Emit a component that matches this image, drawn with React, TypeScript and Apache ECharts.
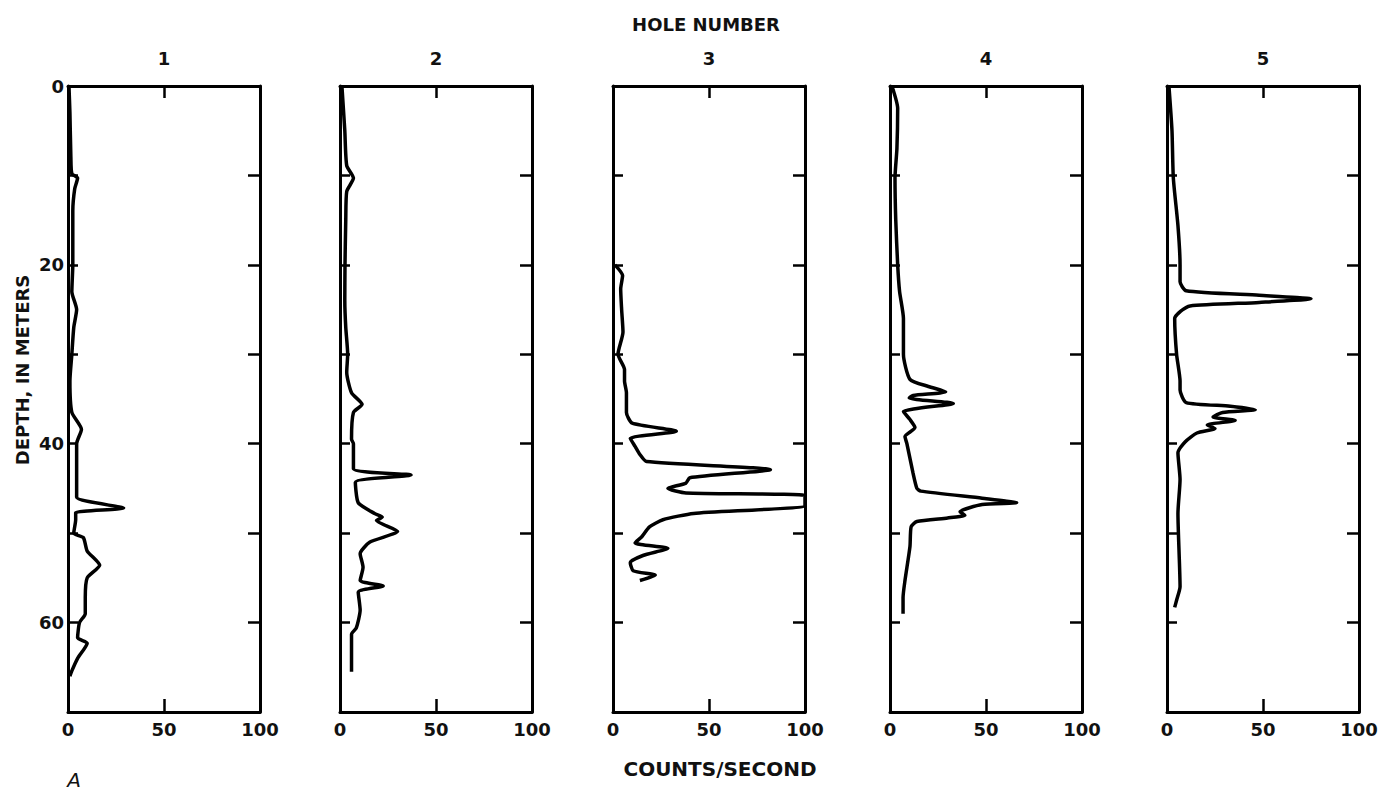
import React, { useEffect, useRef } from "react";
import * as echarts from "echarts";

// Gamma-log style profiles: depth (m) and counts/second for each hole
const holeNumbers = ["1", "2", "3", "4", "5"];
const xTicks = [0, 50, 100];

const hole1Depth = [0, 3, 8, 9.8, 10.3, 11.5, 14, 20, 23, 25, 27, 30, 33, 36.5, 38.4, 40, 44, 46, 47.2, 47.7, 48.5, 50, 50.5, 52, 53.6, 55, 57.2, 59, 60, 61.7, 62.3, 64, 65.4, 66];
const hole1Count = [0.5, 1, 1.5, 2, 5, 3.5, 2.5, 2.5, 2, 4.5, 3, 2, 1, 2, 7, 4.5, 4.5, 4.5, 29, 4, 4, 3, 8, 10, 16.5, 10, 9, 9, 6, 5, 10, 5, 2, 1];

const hole2Depth = [0, 5, 8.9, 10.3, 11.8, 15, 20, 24, 27, 30, 32, 34.3, 35.6, 36.5, 39.5, 40, 42.8, 43.5, 44.3, 46.6, 47.8, 48.2, 48.6, 49.8, 51, 52.3, 53.8, 55.3, 55.9, 56.6, 58.6, 60.6, 61.3, 63, 65.5];
const hole2Count = [1, 2.5, 3.5, 7, 3.5, 3, 2.6, 2.5, 3, 4, 3.5, 6, 11.5, 7, 6, 7, 7, 37, 8, 9.5, 18, 22, 19, 30, 15.6, 10.5, 12, 10.5, 22.5, 9.5, 10.5, 8.5, 6, 6, 6];

const hole3Depth = [20, 21.2, 22.7, 25, 27.5, 30, 31.7, 33, 34.3, 36.5, 37.7, 38.6, 39.4, 40.3, 41.2, 42, 42.9, 43.8, 44.4, 45, 45.5, 45.8, 46.9, 47.8, 48.5, 49.3, 50.4, 51.1, 51.7, 52.5, 53.3, 54.2, 54.7, 55.3];
const hole3Count = [1, 5, 4, 4.5, 5.2, 2.6, 6, 6, 7, 7, 10, 33, 9, 11.5, 14, 17.5, 82, 40, 38, 28.6, 38, 100, 100, 42, 26, 19, 15, 11.5, 28.6, 15.6, 9, 10.5, 22, 14];

const hole4Depth = [0, 2.5, 7, 10.3, 15, 20, 23, 26, 30, 32.8, 33.6, 34.2, 34.6, 34.9, 35.5, 36.4, 37.3, 38.2, 39.2, 40, 43.3, 45, 45.3, 46.1, 46.6, 46.8, 47.6, 48, 48.3, 48.7, 49.3, 51.5, 55.3, 57.2, 59];
const hole4Count = [1, 4, 3.6, 2.6, 3, 4, 5, 7, 7, 10.4, 20, 29, 12, 10, 33, 7, 10.4, 13, 7.8, 8.8, 12, 14, 16, 48, 66, 48, 36.5, 39, 30, 14, 11, 10.4, 7.8, 6.8, 6.8];

const hole5Depth = [0, 5, 10.3, 15.6, 20, 21.9, 22.9, 23.4, 23.8, 24.2, 24.6, 25.2, 26, 30, 33, 34, 35.4, 35.8, 36.2, 36.5, 37, 37.4, 37.9, 38.3, 38.8, 39.8, 41, 44, 47.8, 56, 57.5, 58.3];
const hole5Count = [1, 2.6, 3.3, 5.7, 6.8, 6.8, 10, 48, 75, 48, 12, 7, 4, 5, 6.8, 6.8, 10, 33, 46, 29, 24, 35.5, 21, 25, 15.6, 9.4, 5.7, 6.8, 5.7, 6.8, 5, 4];

const holeDepths = [hole1Depth, hole2Depth, hole3Depth, hole4Depth, hole5Depth];
const holeCounts = [hole1Count, hole2Count, hole3Count, hole4Count, hole5Count];

const FONT = "'DejaVu Sans', Verdana, sans-serif";
const panelLefts = [68, 340, 613, 890, 1167];
const panelWidth = 192;
const panelTop = 86;
const panelHeight = 626;

export default function App() {
  const ref = useRef<HTMLDivElement>(null);

  useEffect(() => {
    if (!ref.current) return;
    const chart = echarts.init(ref.current, null, { renderer: "svg" });

    const grids: any[] = [];
    const xAxes: any[] = [];
    const yAxes: any[] = [];
    const series: any[] = [];
    const graphics: any[] = [];

    const axisLine = { show: true, onZero: false, lineStyle: { color: "#000", width: 3 } };
    const labelStyle = { fontSize: 18, fontWeight: "bold", color: "#111", fontFamily: FONT };

    holeNumbers.forEach((num, i) => {
      grids.push({ left: panelLefts[i], top: panelTop, width: panelWidth, height: panelHeight });
      xAxes.push({
        type: "value", gridIndex: i, position: "bottom", min: xTicks[0], max: xTicks[xTicks.length - 1], interval: 50,
        axisLine, splitLine: { show: false },
        axisTick: { show: true, inside: true, length: 13, lineStyle: { color: "#000", width: 2.5 } },
        axisLabel: { show: true, margin: 8, ...labelStyle },
      });
      xAxes.push({
        type: "value", gridIndex: i, position: "top", min: 0, max: 100, interval: 50,
        axisLine, splitLine: { show: false },
        axisTick: { show: true, inside: true, length: 12, lineStyle: { color: "#000", width: 2.5 } },
        axisLabel: { show: false },
      });
      yAxes.push({
        type: "value", gridIndex: i, position: "left", inverse: true, min: 0, max: 70, interval: 10,
        axisLine, splitLine: { show: false },
        axisTick: { show: true, inside: true, length: 10, lineStyle: { color: "#000", width: 2.5 } },
        axisLabel: {
          show: i === 0, margin: 4, ...labelStyle,
          formatter: (v: number) => (v % 20 === 0 && v < 70 ? String(v) : ""),
        },
      });
      yAxes.push({
        type: "value", gridIndex: i, position: "right", inverse: true, min: 0, max: 70, interval: 10,
        axisLine, splitLine: { show: false },
        axisTick: { show: true, inside: true, length: 12, lineStyle: { color: "#000", width: 2.5 } },
        axisLabel: { show: false },
      });
      series.push({
        type: "line", xAxisIndex: 2 * i, yAxisIndex: 2 * i,
        data: holeDepths[i].map((d, k) => [holeCounts[i][k], d]),
        showSymbol: false, symbol: "none", smooth: 0.2,
        lineStyle: { color: "#000", width: 3.5 },
        clip: true,
      });
      graphics.push({
        type: "text", x: panelLefts[i] + panelWidth / 2, y: 58,
        style: { text: num, fontSize: 18, fontWeight: "bold", fill: "#111", fontFamily: FONT, textAlign: "center", textVerticalAlign: "middle" },
      });
    });

    graphics.push(
      { type: "text", x: 706, y: 24, style: { text: "HOLE NUMBER", fontSize: 18, fontWeight: "bold", fill: "#111", fontFamily: FONT, textAlign: "center", textVerticalAlign: "middle" } },
      { type: "text", x: 720, y: 769, style: { text: "COUNTS/SECOND", fontSize: 20, fontWeight: "bold", fill: "#111", fontFamily: FONT, textAlign: "center", textVerticalAlign: "middle" } },
      { type: "text", x: 22, y: 370, rotation: Math.PI / 2, style: { text: "DEPTH, IN METERS", fontSize: 18, fontWeight: "bold", fill: "#111", fontFamily: FONT, textAlign: "center", textVerticalAlign: "middle" } },
      { type: "text", x: 74, y: 780, style: { text: "A", fontSize: 20, fontStyle: "italic", fill: "#111", fontFamily: FONT, textAlign: "center", textVerticalAlign: "middle" } }
    );

    chart.setOption({
      animation: false,
      backgroundColor: "#fff",
      grid: grids,
      xAxis: xAxes,
      yAxis: yAxes,
      series,
      graphic: graphics,
    });

    return () => chart.dispose();
  }, []);

  return <div ref={ref} style={{ position: "fixed", left: 0, top: 0, width: 1388, height: 792 }} />;
}
